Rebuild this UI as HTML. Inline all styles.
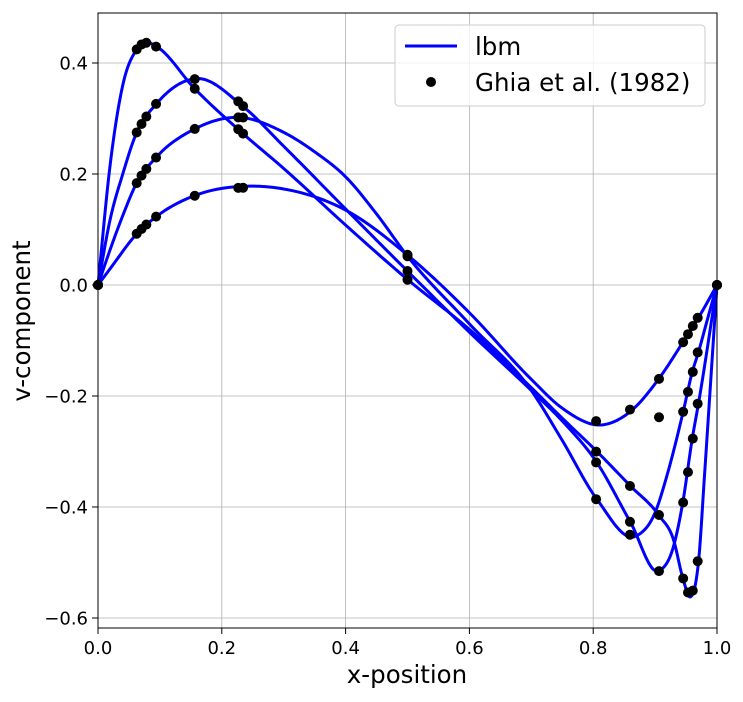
<!DOCTYPE html>
<html><head><meta charset="utf-8"><style>
body{margin:0;background:#fff}
svg text{font-family:"DejaVu Sans","Liberation Sans",sans-serif}
</style></head><body>
<svg id="chart" width="743" height="697" xmlns="http://www.w3.org/2000/svg">
<g id="grid"></g>
<g id="lines"></g>
<g id="pts"></g>
<rect x="98" y="13" width="619" height="615" fill="none" stroke="#000" stroke-width="1"/>
<g id="ticks"></g>
<text x="407" y="683" font-size="24.5" text-anchor="middle">x-position</text>
<text transform="translate(30,321) rotate(-90)" font-size="24.5" text-anchor="middle">v-component</text>
<g>
<rect x="395" y="25" width="310" height="81" rx="4" fill="#fff" fill-opacity="0.8" stroke="#ccc"/>
<line x1="405" y1="46" x2="457" y2="46" stroke="#0000ff" stroke-width="3"/>
<text x="475" y="55" font-size="24.5">lbm</text>
<circle cx="431" cy="82" r="5" fill="#000"/>
<text x="475" y="91" font-size="24.5">Ghia et al. (1982)</text>
</g>
</svg>
<script>
const xTicks=[0,0.2,0.4,0.6,0.8,1.0];
const xTickLabels=["0.0","0.2","0.4","0.6","0.8","1.0"];
const yTicks=[0.4,0.2,0,-0.2,-0.4,-0.6];
const yTickLabels=["0.4","0.2","0.0","\u22120.2","\u22120.4","\u22120.6"];
const lbmX100=[0,0.02,0.0625,0.1,0.156,0.24,0.3,0.4,0.5,0.6,0.7,0.75,0.815,0.86,0.906,0.945,0.97,1];
const lbmRe100=[0,0.03,0.092,0.128,0.161,0.178,0.173,0.135,0.054,-0.05,-0.17,-0.222,-0.252,-0.228,-0.169,-0.103,-0.059,0];
const lbmX400=[0,0.02,0.04,0.0625,0.094,0.156,0.228,0.3,0.35,0.4,0.45,0.5,0.6,0.7,0.75,0.806,0.87,0.9,0.92,0.945,0.96,0.97,0.985,1];
const lbmRe400=[0,0.065,0.125,0.184,0.23,0.281,0.302,0.275,0.24,0.195,0.128,0.052,-0.07,-0.19,-0.28,-0.386,-0.452,-0.41,-0.34,-0.23,-0.157,-0.121,-0.06,0];
const lbmX1000=[0,0.02,0.04,0.0625,0.094,0.16,0.234,0.3,0.4,0.5,0.6,0.7,0.75,0.806,0.86,0.906,0.93,0.945,0.96,0.97,1];
const lbmRe1000=[0,0.12,0.2,0.275,0.326,0.372,0.322,0.25,0.137,0.025,-0.085,-0.19,-0.245,-0.32,-0.427,-0.515,-0.47,-0.39,-0.277,-0.214,0];
const lbmX5000=[0,0.02,0.04,0.0625,0.078,0.094,0.156,0.234,0.3,0.4,0.5,0.6,0.7,0.75,0.806,0.86,0.906,0.93,0.945,0.957,0.965,0.97,0.98,0.99,1];
const lbmRe5000=[0,0.22,0.36,0.424,0.437,0.43,0.354,0.273,0.21,0.108,0.01,-0.08,-0.185,-0.24,-0.3,-0.362,-0.415,-0.46,-0.529,-0.562,-0.54,-0.5,-0.34,-0.17,0];
const ghiaX=[1.0,0.9688,0.9609,0.9531,0.9453,0.9063,0.8594,0.8047,0.5,0.2344,0.2266,0.1563,0.0938,0.0781,0.0703,0.0625,0];
const ghiaRe100=[0,-0.05906,-0.07391,-0.08864,-0.10313,-0.16914,-0.22445,-0.24533,0.05454,0.17527,0.17507,0.16077,0.12317,0.1089,0.10091,0.09233,0];
const ghiaRe400=[0,-0.12146,-0.15663,-0.19254,-0.22847,-0.23827,-0.44993,-0.38598,0.05186,0.30174,0.30203,0.28124,0.22965,0.2092,0.19713,0.1836,0];
const ghiaRe1000=[0,-0.21388,-0.27669,-0.33714,-0.39188,-0.5155,-0.42665,-0.31966,0.02526,0.32235,0.33075,0.37095,0.32627,0.30353,0.29012,0.27485,0];
const ghiaRe5000=[0,-0.49774,-0.55069,-0.55408,-0.52876,-0.41442,-0.36214,-0.30018,0.00945,0.2728,0.28066,0.35368,0.42951,0.43648,0.43329,0.42447,0];

const NS="http://www.w3.org/2000/svg";
const X0=98,X1=717,Y0=285,YS=555;
function sx(v){return X0+(X1-X0)*v;}
function sy(v){return Y0-YS*v;}
function mk(tag,attrs,parent){const e=document.createElementNS(NS,tag);for(const k in attrs)e.setAttribute(k,attrs[k]);parent.appendChild(e);return e;}
const grid=document.getElementById('grid'),ticks=document.getElementById('ticks');
xTicks.forEach((t,i)=>{
  const g=mk('line',{x1:sx(t),x2:sx(t),y1:13,y2:628,stroke:'#b0b0b0','stroke-width':0.8},grid);
  
  
  const tk=mk('line',{x1:sx(t),x2:sx(t),y1:628,y2:634,stroke:'#000'},ticks);
  
  
  const lb=mk('text',{x:sx(t),y:654,'font-size':18,'text-anchor':'middle'},ticks);
  lb.textContent=xTickLabels[i];
  
  
});
yTicks.forEach((t,i)=>{
  const g=mk('line',{x1:98,x2:717,y1:sy(t),y2:sy(t),stroke:'#b0b0b0','stroke-width':0.8},grid);
  
  
  const tk=mk('line',{x1:92,x2:98,y1:sy(t),y2:sy(t),stroke:'#000'},ticks);
  
  
  const lb=mk('text',{x:88,y:sy(t)+6.5,'font-size':18,'text-anchor':'end'},ticks);
  lb.textContent=yTickLabels[i];
  
  
});
function smoothPath(xs,ys){
  const n=xs.length,d=[],m=new Array(n);
  for(let i=0;i<n-1;i++)d.push((ys[i+1]-ys[i])/(xs[i+1]-xs[i]));
  m[0]=d[0];m[n-1]=d[n-2];
  for(let i=1;i<n-1;i++){
    const h0=xs[i]-xs[i-1],h1=xs[i+1]-xs[i];
    m[i]=(h1*d[i-1]+h0*d[i])/(h0+h1);
  }
  let s='M'+sx(xs[0])+','+sy(ys[0]);
  for(let i=0;i<n-1;i++){
    const h=xs[i+1]-xs[i];
    for(let k=1;k<=14;k++){
      const t=k/14,t2=t*t,t3=t2*t;
      const v=(2*t3-3*t2+1)*ys[i]+(t3-2*t2+t)*h*m[i]+(-2*t3+3*t2)*ys[i+1]+(t3-t2)*h*m[i+1];
      s+=' L'+sx(xs[i]+h*t).toFixed(2)+','+sy(v).toFixed(2);
    }
  }
  return s;
}
const lines=document.getElementById('lines');
[[lbmX100,lbmRe100,'re100'],[lbmX400,lbmRe400,'re400'],[lbmX1000,lbmRe1000,'re1000'],[lbmX5000,lbmRe5000,'re5000']].forEach(s=>{
  const l=mk('path',{d:smoothPath(s[0],s[1]),fill:'none',stroke:'#0000ff','stroke-width':3,'stroke-linejoin':'round'},lines);
  
  
});
const pts=document.getElementById('pts');
[ghiaRe100,ghiaRe400,ghiaRe1000,ghiaRe5000].forEach(s=>{
  s.forEach((v,j)=>{
    const c=mk('circle',{cx:sx(ghiaX[j]),cy:sy(v),r:5,fill:'#000'},pts);
    
    
  });
});
</script>
</body></html>
